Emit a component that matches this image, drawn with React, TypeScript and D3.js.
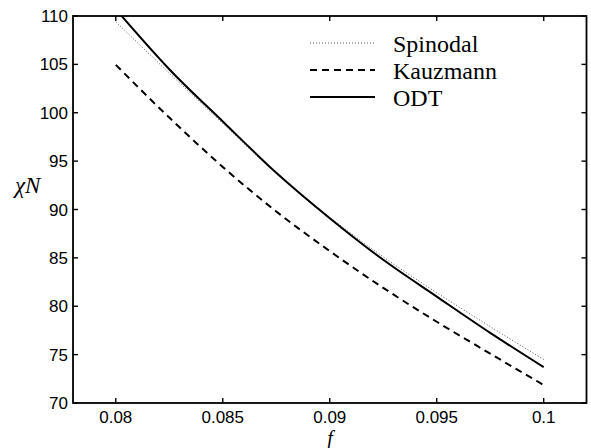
import React from "react";
import * as d3 from "d3";

const fValues = [0.08, 0.0825, 0.085, 0.0875, 0.09, 0.0925, 0.095, 0.0975, 0.1];
const spinodal = [109.4, 104.1, 98.9, 93.7, 89.2, 85.1, 81.4, 77.9, 74.5];
const kauzmann = [104.95, 99.5, 94.4, 89.8, 85.7, 81.9, 78.4, 75.1, 71.85];
const odt = [110.7, 104.5, 99.1, 93.8, 89.1, 84.8, 81.0, 77.25, 73.7];

const xTicks = [0.08, 0.085, 0.09, 0.095, 0.1];
const xTickLabels = ["0.08", "0.085", "0.09", "0.095", "0.1"];
const yTicks = [70, 75, 80, 85, 90, 95, 100, 105, 110];

const legendNames = ["Spinodal", "Kauzmann", "ODT"];

export default function App() {
  const W = 591, H = 448;
  const left = 73, right = 586.5, top = 16, bottom = 403;
  const x = d3.scaleLinear().domain([0.078, 0.102]).range([left, right]);
  const y = d3.scaleLinear().domain([70, 110]).range([bottom, top]);

  const line = (vals: number[]) =>
    d3
      .line<number>()
      .x((_, i) => x(fValues[i]))
      .y((v) => y(v))
      .curve(d3.curveMonotoneX)(vals) as string;

  const series = [
    { name: legendNames[0], vals: spinodal, stroke: "#555", width: 1, dash: "1,2" },
    { name: legendNames[1], vals: kauzmann, stroke: "#000", width: 2, dash: "7,5" },
    { name: legendNames[2], vals: odt, stroke: "#000", width: 2, dash: "" },
  ];

  const tickLen = 5;
  const axisFont = "'Liberation Sans', Arial, Helvetica, sans-serif";
  const serif = "'Liberation Serif', 'Times New Roman', serif";

  return (
    <svg
      width={W}
      height={H}
      style={{ position: "absolute", left: 0, top: 0, background: "#fff" }}
    >
      <rect x={0} y={0} width={W} height={H} fill="#fff" />
      <defs>
        <clipPath id="plotClip">
          <rect x={left} y={top} width={right - left} height={bottom - top} />
        </clipPath>
      </defs>

      {/* data lines */}
      <g clipPath="url(#plotClip)">
        {series.map((s) => (
          <path
            key={s.name}
            d={line(s.vals)}
            fill="none"
            stroke={s.stroke}
            strokeWidth={s.width}
            strokeDasharray={s.dash || undefined}
          />
        ))}
      </g>

      {/* frame */}
      <rect
        x={left}
        y={top}
        width={right - left}
        height={bottom - top}
        fill="none"
        stroke="#000"
        strokeWidth={1.8}
      />

      {/* x ticks */}
      {xTicks.map((t, i) => (
        <g key={"xt" + i}>
          <line x1={x(t)} x2={x(t)} y1={bottom} y2={bottom - tickLen} stroke="#000" strokeWidth={1.4} />
          <line x1={x(t)} x2={x(t)} y1={top} y2={top + tickLen} stroke="#000" strokeWidth={1.4} />
          <text
            x={x(t)}
            y={bottom + 20}
            textAnchor="middle"
            fontFamily={axisFont}
            fontSize={17}
            fill="#000"
          >
            {xTickLabels[i]}
          </text>
        </g>
      ))}

      {/* y ticks */}
      {yTicks.map((t) => (
        <g key={"yt" + t}>
          <line x1={left} x2={left + tickLen} y1={y(t)} y2={y(t)} stroke="#000" strokeWidth={1.4} />
          <line x1={right} x2={right - tickLen} y1={y(t)} y2={y(t)} stroke="#000" strokeWidth={1.4} />
          <text
            x={left - 5}
            y={y(t)}
            dy="0.36em"
            textAnchor="end"
            fontFamily={axisFont}
            fontSize={17}
            fill="#000"
          >
            {t}
          </text>
        </g>
      ))}

      {/* axis labels */}
      <text x={15} y={193} fontFamily={serif} fontStyle="italic" fontSize={23} fill="#000">
        χN
      </text>
      <text x={330} y={445} textAnchor="middle" fontFamily={serif} fontStyle="italic" fontSize={20} fill="#000">
        f
      </text>

      {/* legend */}
      {series.map((s, i) => {
        const ly = 43 + i * 27;
        return (
          <g key={"lg" + i}>
            <line
              x1={310}
              x2={375}
              y1={ly}
              y2={ly}
              stroke={s.stroke}
              strokeWidth={s.width}
              strokeDasharray={s.dash || undefined}
            />
            <text x={393} y={ly + 9} fontFamily={serif} fontSize={24} fill="#000">
              {s.name}
            </text>
          </g>
        );
      })}
    </svg>
  );
}
